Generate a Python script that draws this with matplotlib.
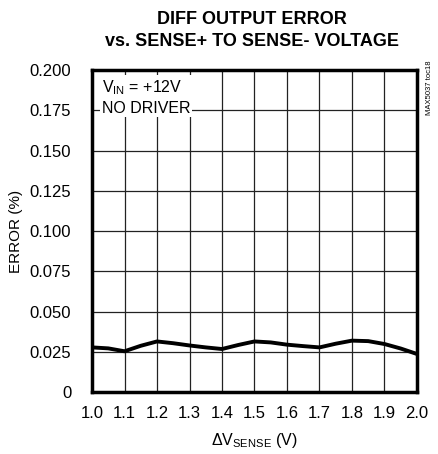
from matplotlib import pyplot as plt

# data
v_sense = [1.0, 1.05, 1.1, 1.15, 1.2, 1.25, 1.3, 1.35, 1.4, 1.45, 1.5, 1.55,
           1.6, 1.65, 1.7, 1.75, 1.8, 1.85, 1.9, 1.95, 2.0]
error = [0.0277, 0.0271, 0.0253, 0.0287, 0.0314, 0.0303, 0.0289, 0.0277, 0.0267,
         0.0292, 0.0314, 0.0308, 0.0294, 0.0285, 0.0277, 0.0300, 0.0319, 0.0316,
         0.0298, 0.0270, 0.0236]

x_ticks = [1.0, 1.1, 1.2, 1.3, 1.4, 1.5, 1.6, 1.7, 1.8, 1.9, 2.0]
y_ticks = [0, 0.025, 0.050, 0.075, 0.100, 0.125, 0.150, 0.175, 0.200]
y_labels = ["0", "0.025", "0.050", "0.075", "0.100", "0.125", "0.150", "0.175", "0.200"]

plt.rcParams['font.family'] = ['Liberation Sans', 'DejaVu Sans']
plt.rcParams['mathtext.fontset'] = 'custom'
plt.rcParams['mathtext.rm'] = 'Liberation Sans'

fig = plt.figure(figsize=(4.39, 4.54), dpi=100)
ax = fig.add_axes([92 / 439, 1 - 392 / 454, 325 / 439, 322 / 454])

ax.plot(v_sense, error, color='black', lw=2.8, solid_capstyle='butt')

ax.set_xlim(1.0, 2.0)
ax.set_ylim(0, 0.2)
ax.set_xticks(x_ticks)
ax.set_xticklabels([f"{t:.1f}" for t in x_ticks])
ax.set_yticks(y_ticks)
ax.set_yticklabels(y_labels)
ax.tick_params(axis='y', length=0, labelsize=12, pad=15)
ax.tick_params(axis='x', length=0, labelsize=12, pad=10)
ax.grid(True, color='#222222', lw=0.9)
for s in ax.spines.values():
    s.set_linewidth(2.5)

ax.set_xlabel(r"$\Delta$V$_{\mathregular{SENSE}}$ (V)", fontsize=11.5, labelpad=7)
ax.set_ylabel("ERROR (%)", fontsize=11, labelpad=5)

fig.text(0.574, 0.975, "DIFF OUTPUT ERROR\nvs. SENSE+ TO SENSE- VOLTAGE",
         ha='center', va='top', fontsize=13, fontweight='bold', linespacing=1.35)

ax.text(0.03, 0.975, r"V$_{\mathregular{IN}}$ = +12V" + "\nNO DRIVER", transform=ax.transAxes,
        ha='left', va='top', fontsize=11.5, linespacing=1.35,
        bbox=dict(facecolor='white', edgecolor='none', pad=1))

fig.text(0.979, 0.806, "MAX5037 toc18", rotation=90, ha='center', va='center', fontsize=5.5)

fig.savefig("out.png", dpi=100)
